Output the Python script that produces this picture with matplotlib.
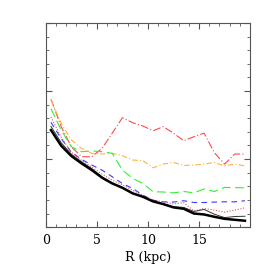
import numpy as np
import matplotlib
matplotlib.use("Agg")
import matplotlib.pyplot as plt

# bin centres (kpc)
r_kpc = np.arange(0.5, 20.0, 1.0)

# profiles (arbitrary units, axis has no labels)
thick_black = [7.13, 5.98, 5.22, 4.68, 4.19, 3.63, 3.21, 2.89, 2.48, 2.23,
               1.89, 1.69, 1.45, 1.35, 1.00, 0.93, 0.76, 0.61, 0.54, 0.47]
thin_black = [7.4, 6.2, 5.35, 4.8, 4.3, 3.7, 3.25, 2.9, 2.5, 2.25,
              1.9, 1.72, 1.5, 1.45, 1.15, 1.3, 0.95, 0.7, 0.78, 0.8]
dotted_red = [8.1, 6.6, 5.5, 4.9, 4.4, 3.9, 3.45, 3.1, 2.7, 2.35,
              1.98, 1.86, 1.7, 1.8, 1.18, 1.37, 1.25, 1.1, 1.25, 1.42]
blue_dash = [7.7, 6.5, 5.5, 4.98, 4.56, 4.19, 3.7, 3.2, 2.84, 2.35,
             1.98, 1.86, 1.84, 1.94, 1.81, 1.81, 1.84, 1.86, 1.86, 1.94]
green_dash = [8.7, 7.13, 5.9, 5.54, 5.6, 5.54, 5.42, 4.19, 3.58, 3.21,
              2.6, 2.58, 2.52, 2.62, 2.52, 2.8, 2.62, 2.92, 2.9, 2.89]
orange_dashdot = [9.34, 7.62, 6.4, 5.78, 5.42, 5.37, 5.42, 5.25, 4.93, 4.88,
                  4.36, 4.63, 4.75, 4.53, 4.56, 4.63, 4.75, 4.5, 4.63, 4.5]
red_dashdot = [9.4, 7.38, 5.9, 5.17, 5.17, 5.78, 6.9, 8.04, 7.67, 7.43,
               7.08, 7.38, 6.9, 6.35, 6.64, 6.9, 5.47, 4.63, 5.37, 5.37]

plt.rcParams["font.family"] = ["DejaVu Serif"]

fig = plt.figure(figsize=(2.73, 2.73), dpi=100)
ax = fig.add_axes([0.168, 0.168, 0.748, 0.748])

ax.plot(r_kpc, red_dashdot, color="#ff4a4a", lw=0.8, ls=(0, (7, 2, 1, 2)))
ax.plot(r_kpc, orange_dashdot, color="#ffb340", lw=0.8, ls=(0, (5, 2, 1, 2)))
ax.plot(r_kpc, green_dash, color="#33ee33", lw=0.8, ls=(0, (8, 4)))
ax.plot(r_kpc, blue_dash, color="#3a3aff", lw=0.8, ls=(0, (5, 4)))
ax.plot(r_kpc, dotted_red, color="#d06060", lw=0.8, ls=(0, (1, 1.5)))
ax.plot(r_kpc, thin_black, color="#333333", lw=0.7)
ax.plot(r_kpc, thick_black, color="black", lw=1.8)

ax.set_xlim(0, 20)
ax.set_ylim(0, 15)
ax.set_xticks([0, 5, 10, 15])
ax.set_xticks(np.arange(0, 20, 1), minor=True)
ax.set_yticks([0, 5, 10, 15])
ax.set_yticks(np.arange(0, 16, 1), minor=True)
ax.set_yticklabels([])
ax.tick_params(direction="in", which="both", top=True, right=True,
               labelsize=9, color="#555555", pad=5)
ax.tick_params(which="major", length=4.5)
ax.tick_params(which="minor", length=2.5)
for s in ax.spines.values():
    s.set_color("#555555")
    s.set_linewidth(0.8)
ax.set_xlabel("R (kpc)", fontsize=9, labelpad=3)

fig.savefig("out.png", dpi=100)
